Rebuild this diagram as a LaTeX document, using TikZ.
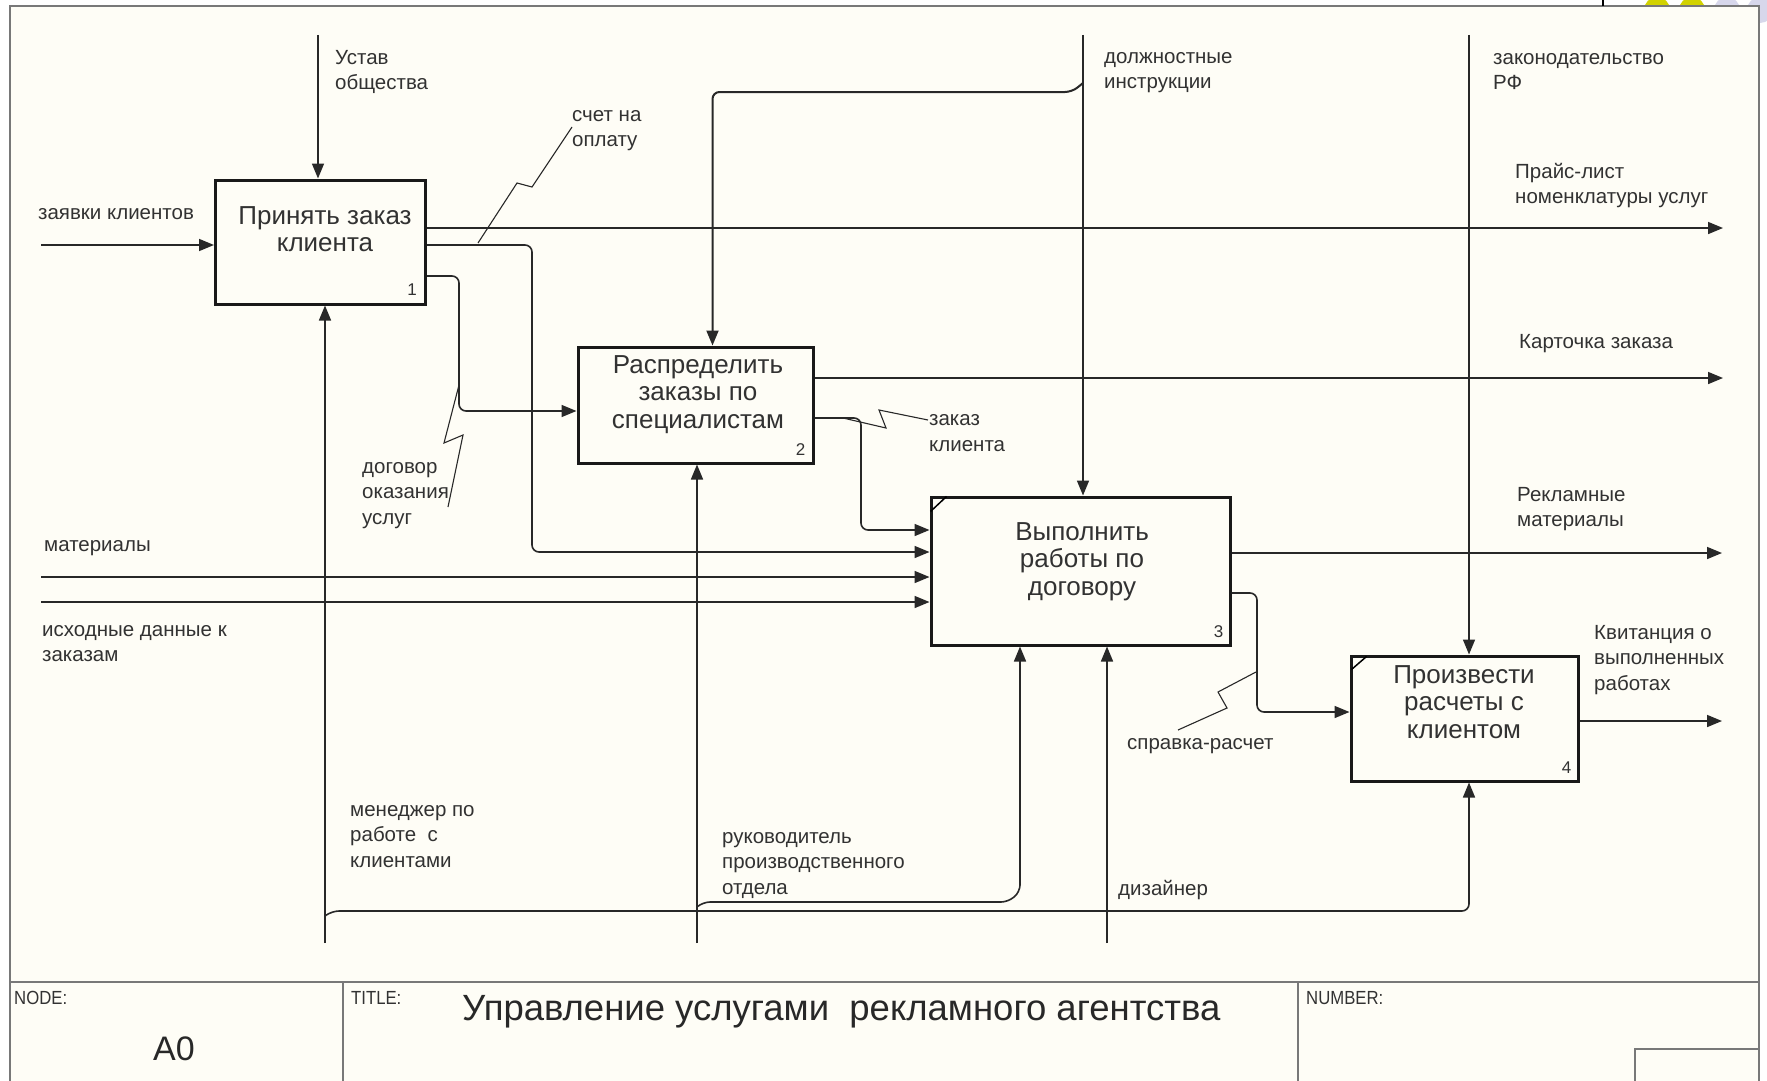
\documentclass[tikz,border=0pt]{standalone}
\usepackage{fontspec}
\usepackage{graphicx}
\setmainfont{Liberation Sans}
\usetikzlibrary{arrows.meta,calc}
\definecolor{paper}{RGB}{254,253,246}
\definecolor{ink}{RGB}{40,40,40}
\definecolor{txt}{RGB}{50,50,50}
\definecolor{framec}{RGB}{120,120,120}
\definecolor{yel}{RGB}{210,210,0}
\definecolor{lav}{RGB}{215,215,235}
\begin{document}
\begin{tikzpicture}[x=1pt,y=-1pt,
  conn/.style={draw=ink, line width=1.6pt},
  arr/.style={conn, -{Triangle[length=15pt,width=12pt]}},
  rc/.style={rounded corners=7pt},
  squig/.style={draw=ink, line width=1.1pt},
  box/.style={draw=black!90, line width=3pt, inner sep=0pt, minimum width=#1},
  boxtxt/.style={anchor=base, align=center, inner sep=0pt, text=txt, font=\fontsize{26}{27.5}\selectfont},
  num/.style={anchor=base east, inner sep=0pt, text=txt, font=\fontsize{17}{17}\selectfont},
  lbl/.style={anchor=base west, align=left, inner sep=0pt, text=txt, font=\fontsize{20.5}{25.5}\selectfont},
  framel/.style={draw=framec, line width=2pt},
  hdr/.style={anchor=base west, inner sep=0pt, text=txt, font=\fontsize{19}{19}\selectfont},
]
\useasboundingbox (0,0) rectangle (1767,1081);
\fill[white] (0,0) rectangle (1767,1081);
% decorative circles at top right
\fill[yel] (1657,10) circle (13);
\fill[yel] (1692,10) circle (13);
\fill[lav] (1727,10) circle (13);
\fill[lav] (1760,10) circle (13);
\fill[paper] (10,6) rectangle (1759,1081);
% frame and title block
\draw[framel] (10,1081) -- (10,6) -- (1759,6) -- (1759,1081);
\draw[black, line width=2pt] (1603,0) -- (1603,6);
\draw[framel] (10,982) -- (1759,982);
\draw[framel] (343,982) -- (343,1081);
\draw[framel] (1298,982) -- (1298,1081);
\draw[framel] (1635,1081) -- (1635,1049) -- (1759,1049);
\node[hdr] (hnode) at (14,1004) {\scalebox{0.88}[1]{NODE:}};
\node[hdr] (htitle) at (351,1004) {\scalebox{0.88}[1]{TITLE:}};
\node[hdr] (hnum) at (1306,1004) {\scalebox{0.88}[1]{NUMBER:}};
\node[anchor=base, inner sep=0pt, text=ink, font=\fontsize{34}{34}\selectfont] (anode) at (174,1060) {A0};
\node[anchor=base west, inner sep=0pt, text=ink, font=\fontsize{36.5}{36.5}\selectfont] (title) at (462,1020) {Управление услугами\ \ рекламного агентства};

% activity boxes
\node[box=210pt, minimum height=124pt] (b1) at (320.5,242) {};
\node[box=235pt, minimum height=116pt] (b2) at (695.5,405) {};
\node[box=299pt, minimum height=148pt] (b3) at (1080.5,571) {};
\node[box=227pt, minimum height=125pt] (b4) at (1464.5,718.5) {};
\node[boxtxt] (t1) at (325,251.5) {Принять заказ\\клиента};
\node[boxtxt] (t2) at (698,428) {Распределить\\заказы по\\специалистам};
\node[boxtxt] (t3) at (1082,595) {Выполнить\\работы по\\договору};
\node[boxtxt] (t4) at (1464,738) {Произвести\\расчеты с\\клиентом};
\node[num] (n1) at ($(b1.south east)+(-10,-10)$) {1};
\node[num] (n2) at ($(b2.south east)+(-9,-9)$) {2};
\node[num] (n3) at ($(b3.south east)+(-8,-9)$) {3};
\node[num] (n4) at ($(b4.south east)+(-8,-9)$) {4};
\draw[black, line width=1.5pt] ($(b3.north west)+(1,16)$) -- ($(b3.north west)+(17,1)$);
\draw[black, line width=1.5pt] ($(b4.north west)+(2,15)$) -- ($(b4.north west)+(17,2)$);

% free ends and bend points
\coordinate (ustavT) at (318,35);
\coordinate (zayavL) at (41,245);
\coordinate (priceR) at (1723,228);
\coordinate (kartR) at (1723,378);
\coordinate (reklR) at (1722,553);
\coordinate (kvitR) at (1722,721);
\coordinate (dolzhT) at (1083,35);
\coordinate (zakonT) at (1469,35);
\coordinate (matL) at (41,577);
\coordinate (ishL) at (41,602);
\coordinate (menB) at (325,943);
\coordinate (rukB) at (697,943);
\coordinate (dizB) at (1107,943);
\coordinate (c1) at (532,245); \coordinate (c1b) at (532,552);
\coordinate (c2) at (459,276); \coordinate (c2b) at (459,411);
\coordinate (c3) at (861,418); \coordinate (c3b) at (861,530);
\coordinate (c4) at (1257,593); \coordinate (c4b) at (1257,712);
\coordinate (d1) at (1083,83); \coordinate (d2) at (1072,92); \coordinate (d3) at (712.5,92);
\coordinate (m1) at (325,916); \coordinate (m2) at (332,911); \coordinate (m3) at (1469,911);
\coordinate (r1) at (697,907); \coordinate (r2) at (703,902); \coordinate (r3) at (1008,902); \coordinate (r4) at (1020,892);

% connectors
\draw[arr] (ustavT) -- (ustavT |- b1.north);
\draw[arr] (zayavL) -- (zayavL -| b1.west);
\draw[arr] (b1.east |- priceR) -- (priceR);
\draw[arr, rc] (b1.east |- c1) -- (c1) -- (c1b) -- (b3.west |- c1b);
\draw[arr, rc] (b1.east |- c2) -- (c2) -- (c2b) -- (b2.west |- c2b);
\draw[arr] (dolzhT) -- (dolzhT |- b3.north);
\draw[arr, rc, line width=2pt] (d1) -- (d2) -- (d3) -- (d3 |- b2.north);
\draw[arr] (b2.east |- kartR) -- (kartR);
\draw[arr, rc] (b2.east |- c3) -- (c3) -- (c3b) -- (b3.west |- c3b);
\draw[arr] (matL) -- (matL -| b3.west);
\draw[arr] (ishL) -- (ishL -| b3.west);
\draw[arr] (b3.east |- reklR) -- (reklR);
\draw[arr, rc] (b3.east |- c4) -- (c4) -- (c4b) -- (b4.west |- c4b);
\draw[arr] (zakonT) -- (zakonT |- b4.north);
\draw[arr] (b4.east |- kvitR) -- (kvitR);
\draw[arr] (menB) -- (menB |- b1.south);
\draw[arr, rc] (m1) -- (m2) -- (m3) -- (m3 |- b4.south);
\draw[arr] (rukB) -- (rukB |- b2.south);
\draw[arr, rc] (r1) -- (r2) -- (r3) -- (r4) -- (r4 |- b3.south);
\draw[arr] (dizB) -- (dizB |- b3.south);

% squiggles
\draw[squig] (478,243) -- (517,183) -- (532,187) -- (572,127);
\draw[squig] (459,385) -- (444,443) -- (463,435) -- (448,507);
\draw[squig] (843,418) -- (886,428) -- (879,410) -- (928,420);
\draw[squig] (1256,672) -- (1218,692) -- (1227,708) -- (1178,730);

% labels (coordinates give the baseline of the last line)
\node[lbl] (lustav) at (335,89.5) {Устав\\общества};
\node[lbl] (lzayav) at (38,219) {заявки клиентов};
\node[lbl] (lschet) at (572,146.5) {счет на\\оплату};
\node[lbl] (ldolzh) at (1104,88.5) {должностные\\инструкции};
\node[lbl] (lzakon) at (1493,89.5) {законодательство\\РФ};
\node[lbl] (lprice) at (1515,203.5) {Прайс-лист\\номенклатуры услуг};
\node[lbl] (lkart) at (1519,348) {Карточка заказа};
\node[lbl] (lzakaz) at (929,451) {заказ\\клиента};
\node[lbl] (ldogov) at (362,524) {договор\\оказания\\услуг};
\node[lbl] (lmat) at (44,551) {материалы};
\node[lbl] (lrekl) at (1517,526.5) {Рекламные\\материалы};
\node[lbl] (lish) at (42,661.5) {исходные данные к\\заказам};
\node[lbl] (lkvit) at (1594,690) {Квитанция о\\выполненных\\работах};
\node[lbl] (lsprav) at (1127,749) {справка-расчет};
\node[lbl] (lmen) at (350,867) {менеджер по\\работе\ \ с\\клиентами};
\node[lbl] (lruk) at (722,894) {руководитель\\производственного\\отдела};
\node[lbl] (ldiz) at (1118,895) {дизайнер};
\end{tikzpicture}
\end{document}
